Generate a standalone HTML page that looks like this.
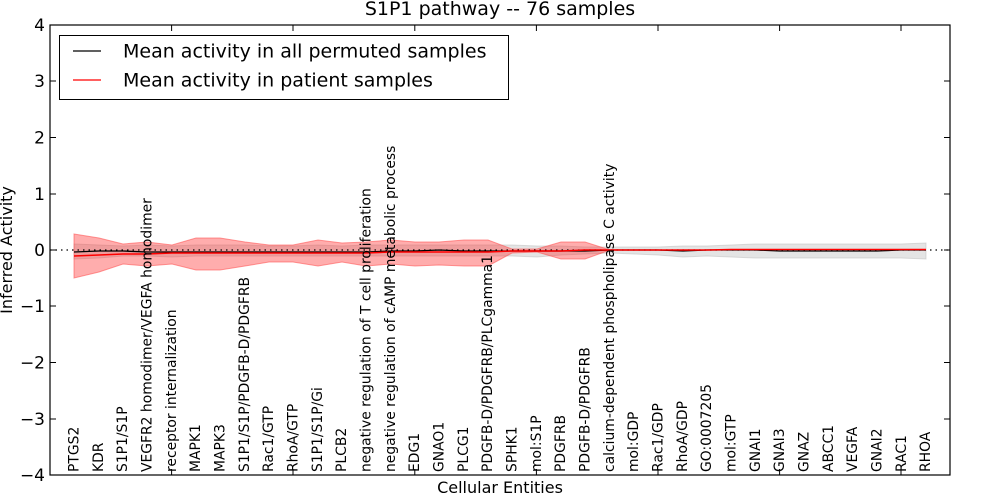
<!DOCTYPE html>
<html><head><meta charset="utf-8"><style>
html,body{margin:0;padding:0;background:#fff;}
svg{display:block;font-family:"DejaVu Sans","Liberation Sans",sans-serif;}
</style></head><body>
<svg width="1000" height="500" viewBox="0 0 1000 500" xmlns="http://www.w3.org/2000/svg">
<rect width="1000" height="500" fill="#fff"/>
<text x="500" y="15" font-size="19" text-anchor="middle">S1P1 pathway -- 76 samples</text>
<polygon fill="#bbb" fill-opacity="0.4" stroke="#bbb" stroke-opacity="0.5" points="74,244 99,245 123,246 147,245 172,246 196,245 220,245 245,245 269,246 293,246 318,245 342,246 366,245 391,245 415,245 439,245 464,245 488,245 512,245 537,246 561,246 585,247 610,247 634,247 658,247 683,246 707,246 731,245 755,244 780,244 804,244 828,244 853,244 877,244 901,244 926,243 926,259 901,258 877,258 853,258 828,258 804,258 780,258 755,258 731,257 707,256 683,257 658,255 634,254 610,253 585,254 561,255 537,257 512,256 488,256 464,256 439,256 415,256 391,256 366,256 342,256 318,256 293,256 269,256 245,256 220,256 196,256 172,257 147,256 123,256 99,258 74,259"/>
<polygon fill="#f33" fill-opacity="0.4" stroke="#f55" stroke-opacity="0.6" points="74,234 99,238 123,244 147,242 172,245 196,238 220,238 245,242 269,245 293,245 318,240 342,243 366,242 391,240 415,242 439,242 464,240 488,240 512,249 537,249 561,242 585,242 610,250 634,250 634,250 610,250 585,259 561,259 537,252 512,253 488,266 464,266 439,265 415,266 391,264 366,266 342,262 318,266 293,262 269,262 245,266 220,270 196,270 172,264 147,266 123,264 99,272 74,278"/>
<line x1="50" y1="250" x2="950" y2="250" stroke="#000" stroke-width="1.2" stroke-dasharray="1.5,4"/>
<polyline fill="none" stroke="#000" stroke-width="1.3" points="74,252 99,251 123,251 147,252 172,252 196,252 220,252 245,252 269,252 293,252 318,252 342,252 366,252 391,251 415,251 439,250 464,251 488,251 512,251 537,251 561,251 585,251 610,250 634,250 658,250 683,251 707,250 731,250 755,250 780,251 804,251 828,251 853,251 877,251 901,250 926,250"/>
<polyline fill="none" stroke="#f00" stroke-width="1.5" points="74,256 99,255 123,254 147,254 172,253 196,253 220,253 245,253 269,253 293,253 318,253 342,253 366,253 391,252 415,252 439,252 464,252 488,252 512,251 537,251 561,251 585,250 610,250 634,250 658,250 683,250 707,250 731,249.5 755,249.5 780,249.5 804,249.5 828,249.5 853,249.5 877,249.5 901,249.5 926,249.5"/>
<rect x="50" y="25" width="900" height="450" fill="none" stroke="#000" stroke-width="1.2"/>
<g stroke="#000" stroke-width="1">
<line x1="50" y1="25" x2="56" y2="25"/><line x1="50" y1="81" x2="56" y2="81"/><line x1="50" y1="137.5" x2="56" y2="137.5"/><line x1="50" y1="194" x2="56" y2="194"/><line x1="50" y1="250" x2="56" y2="250"/><line x1="50" y1="306" x2="56" y2="306"/><line x1="50" y1="362.5" x2="56" y2="362.5"/><line x1="50" y1="419" x2="56" y2="419"/>
<line x1="944" y1="81" x2="950" y2="81"/><line x1="944" y1="137.5" x2="950" y2="137.5"/><line x1="944" y1="194" x2="950" y2="194"/><line x1="944" y1="250" x2="950" y2="250"/><line x1="944" y1="306" x2="950" y2="306"/><line x1="944" y1="362.5" x2="950" y2="362.5"/><line x1="944" y1="419" x2="950" y2="419"/>
<line x1="171.6" y1="475" x2="171.6" y2="469"/><line x1="293" y1="475" x2="293" y2="469"/><line x1="414.8" y1="475" x2="414.8" y2="469"/><line x1="536.4" y1="475" x2="536.4" y2="469"/><line x1="658" y1="475" x2="658" y2="469"/><line x1="779.6" y1="475" x2="779.6" y2="469"/><line x1="901" y1="475" x2="901" y2="469"/>
<line x1="171.6" y1="25" x2="171.6" y2="31"/><line x1="293" y1="25" x2="293" y2="31"/><line x1="414.8" y1="25" x2="414.8" y2="31"/><line x1="536.4" y1="25" x2="536.4" y2="31"/><line x1="658" y1="25" x2="658" y2="31"/><line x1="779.6" y1="25" x2="779.6" y2="31"/><line x1="901" y1="25" x2="901" y2="31"/>
</g>
<g font-size="17" text-anchor="end">
<text x="45" y="31">4</text><text x="45" y="87">3</text><text x="45" y="143.5">2</text><text x="45" y="200">1</text><text x="45" y="256">0</text><text x="45" y="312">−1</text><text x="45" y="368.5">−2</text><text x="45" y="425">−3</text><text x="45" y="481">−4</text>
</g>
<text transform="translate(12,250) rotate(-90)" font-size="16" text-anchor="middle">Inferred Activity</text>
<text x="500" y="493" font-size="16" text-anchor="middle">Cellular Entities</text>
<rect x="59.5" y="35.5" width="449" height="64" fill="#fff" stroke="#000" stroke-width="1"/>
<line x1="73" y1="51" x2="101" y2="51" stroke="#000" stroke-width="1.3"/>
<line x1="73" y1="80" x2="101" y2="80" stroke="#f00" stroke-width="1.3"/>
<text x="123" y="57.5" font-size="19">Mean activity in all permuted samples</text>
<text x="123" y="86.5" font-size="19">Mean activity in patient samples</text>
<g font-size="13.9">
<text transform="translate(78.5,472) rotate(-90)">PTGS2</text>
<text transform="translate(103,472) rotate(-90)">KDR</text>
<text transform="translate(127,472) rotate(-90)">S1P1/S1P</text>
<text transform="translate(151.5,472) rotate(-90)">VEGFR2 homodimer/VEGFA homodimer</text>
<text transform="translate(176,472) rotate(-90)">receptor internalization</text>
<text transform="translate(200,472) rotate(-90)">MAPK1</text>
<text transform="translate(224.5,472) rotate(-90)">MAPK3</text>
<text transform="translate(249,472) rotate(-90)">S1P1/S1P/PDGFB-D/PDGFRB</text>
<text transform="translate(273,472) rotate(-90)">Rac1/GTP</text>
<text transform="translate(297.5,472) rotate(-90)">RhoA/GTP</text>
<text transform="translate(322,472) rotate(-90)">S1P1/S1P/Gi</text>
<text transform="translate(346,472) rotate(-90)">PLCB2</text>
<text transform="translate(370.5,472) rotate(-90)">negative regulation of T cell proliferation</text>
<text transform="translate(395,472) rotate(-90)">negative regulation of cAMP metabolic process</text>
<text transform="translate(419,472) rotate(-90)">EDG1</text>
<text transform="translate(443.5,472) rotate(-90)">GNAO1</text>
<text transform="translate(468,472) rotate(-90)">PLCG1</text>
<text transform="translate(492,472) rotate(-90)">PDGFB-D/PDGFRB/PLCgamma1</text>
<text transform="translate(516.5,472) rotate(-90)">SPHK1</text>
<text transform="translate(541,472) rotate(-90)">mol:S1P</text>
<text transform="translate(565,472) rotate(-90)">PDGFRB</text>
<text transform="translate(589.5,472) rotate(-90)">PDGFB-D/PDGFRB</text>
<text transform="translate(614,472) rotate(-90)">calcium-dependent phospholipase C activity</text>
<text transform="translate(638,472) rotate(-90)">mol:GDP</text>
<text transform="translate(662.5,472) rotate(-90)">Rac1/GDP</text>
<text transform="translate(687,472) rotate(-90)">RhoA/GDP</text>
<text transform="translate(711,472) rotate(-90)">GO:0007205</text>
<text transform="translate(735.5,472) rotate(-90)">mol:GTP</text>
<text transform="translate(760,472) rotate(-90)">GNAI1</text>
<text transform="translate(784,472) rotate(-90)">GNAI3</text>
<text transform="translate(808.5,472) rotate(-90)">GNAZ</text>
<text transform="translate(833,472) rotate(-90)">ABCC1</text>
<text transform="translate(857,472) rotate(-90)">VEGFA</text>
<text transform="translate(881.5,472) rotate(-90)">GNAI2</text>
<text transform="translate(906,472) rotate(-90)">RAC1</text>
<text transform="translate(930,472) rotate(-90)">RHOA</text>
</g>
</svg>
</body></html>
